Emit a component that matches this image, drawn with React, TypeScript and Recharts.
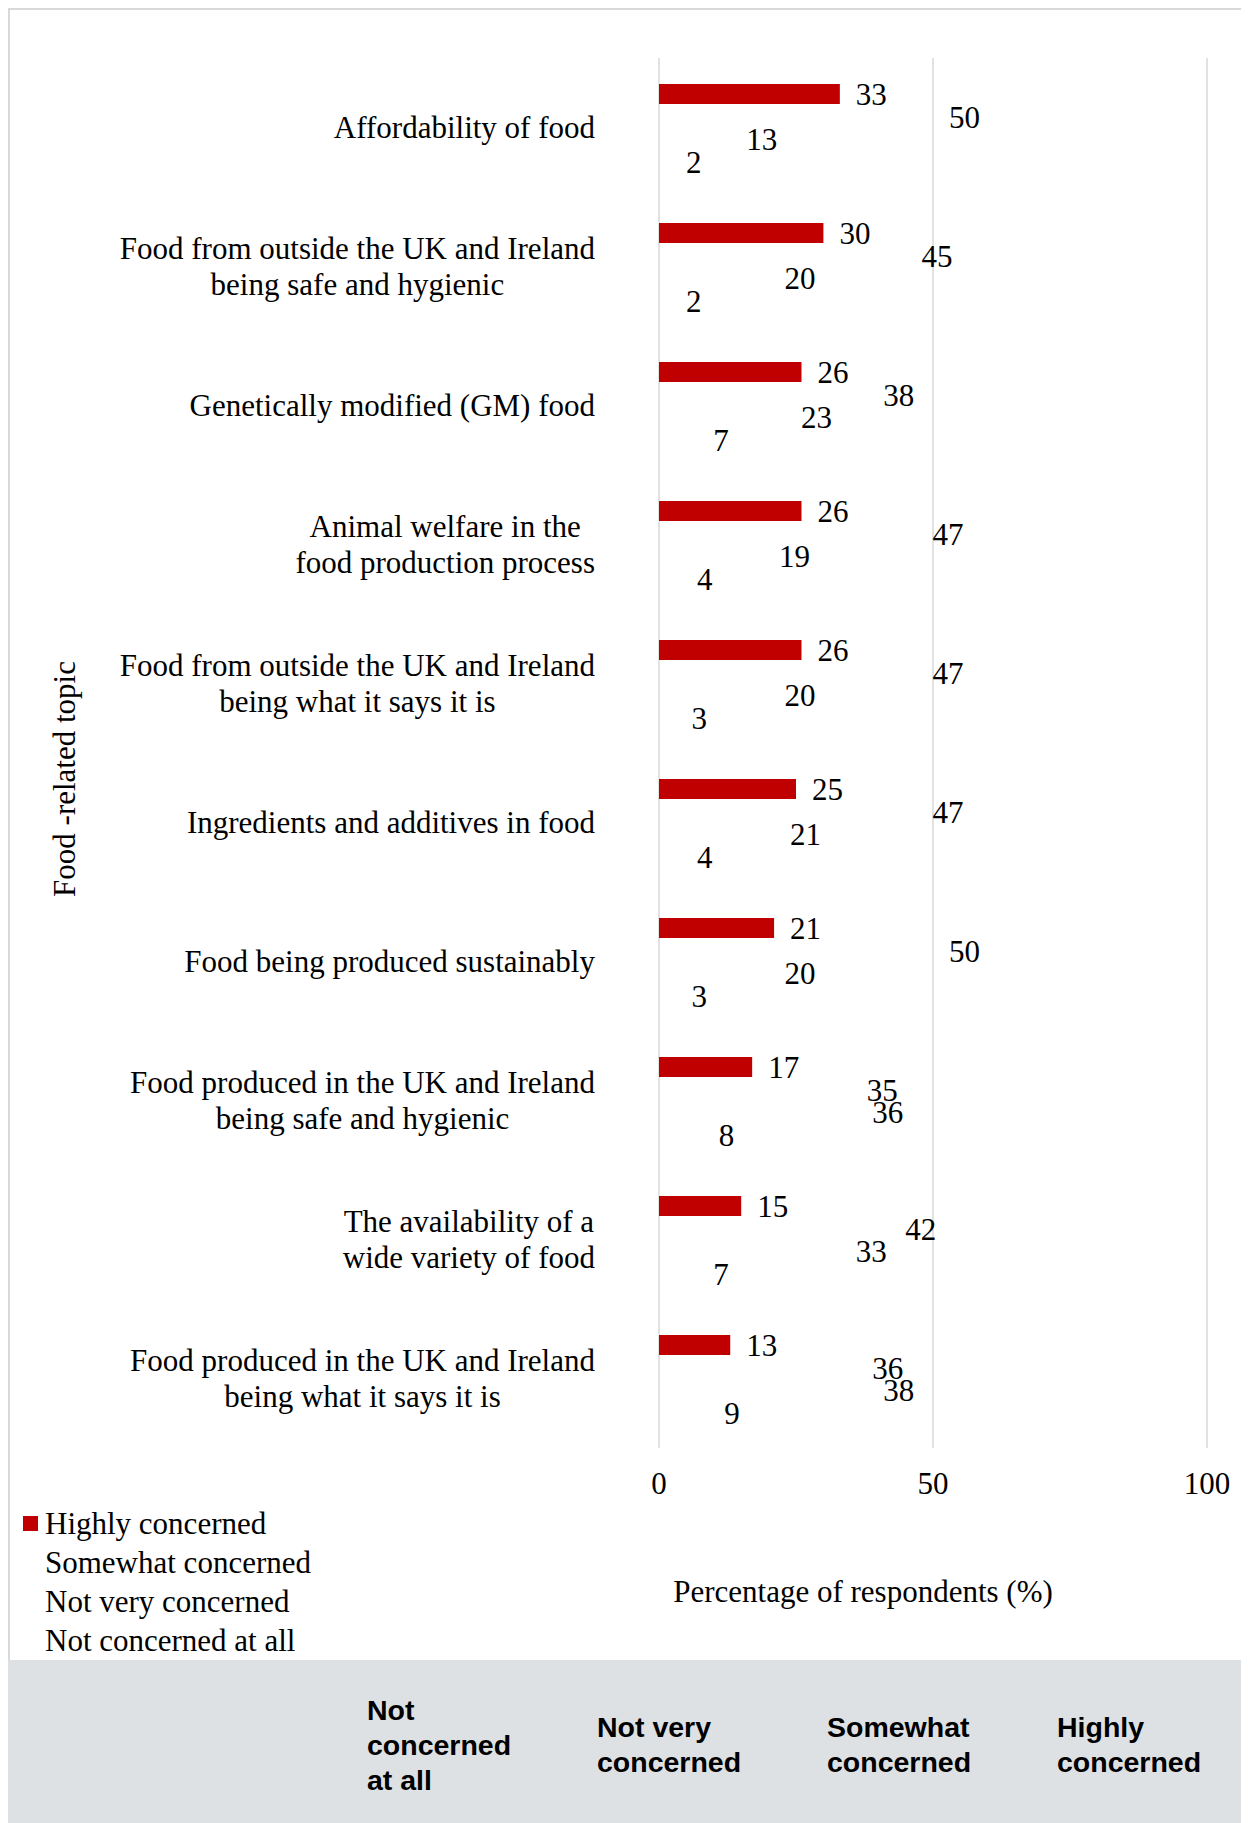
import React from 'react';
import { BarChart, Bar, XAxis, YAxis, CartesianGrid, LabelList, Legend, Label } from 'recharts';

if (typeof document !== 'undefined') {
  document.body.style.overflow = 'hidden';
}

const topics = [
  'Affordability of food',
  'Food from outside the UK and Ireland\nbeing safe and hygienic',
  'Genetically modified (GM) food',
  'Animal welfare in the\nfood production process',
  'Food from outside the UK and Ireland\nbeing what it says it is',
  'Ingredients and additives in food',
  'Food being produced sustainably',
  'Food produced in the UK and Ireland\nbeing safe and hygienic',
  'The availability of a\nwide variety of food',
  'Food produced in the UK and Ireland\nbeing what it says it is',
];

const highly = [33, 30, 26, 26, 26, 25, 21, 17, 15, 13];
const somewhat = [50, 45, 38, 47, 47, 47, 50, 35, 42, 36];
const notVery = [13, 20, 23, 19, 20, 21, 20, 36, 33, 38];
const notAtAll = [2, 2, 7, 4, 3, 4, 3, 8, 7, 9];

const xTicks = [0, 50, 100];

const footerLabels = [
  ['Not', 'concerned', 'at all'],
  ['Not very', 'concerned'],
  ['Somewhat', 'concerned'],
  ['Highly', 'concerned'],
];

const series = [
  { key: 'highly', name: 'Highly concerned', fill: '#C00000' },
  { key: 'somewhat', name: 'Somewhat concerned', fill: 'none' },
  { key: 'notVery', name: 'Not very concerned', fill: 'none' },
  { key: 'notAtAll', name: 'Not concerned at all', fill: 'none' },
];

const SERIF = '"Liberation Serif", "Times New Roman", serif';
const SANS = '"Liberation Sans", Arial, sans-serif';
const FS = 31;

const data = topics.map((name, i) => ({
  name,
  highly: highly[i],
  somewhat: somewhat[i],
  notVery: notVery[i],
  notAtAll: notAtAll[i],
}));

let ctx: CanvasRenderingContext2D | null = null;
function textWidth(s: string) {
  if (!ctx) ctx = document.createElement('canvas').getContext('2d');
  if (!ctx) return s.length * FS * 0.45;
  ctx.font = `${FS}px "Liberation Serif"`;
  return ctx.measureText(s).width;
}

function TopicTick(props: any) {
  const { x, y, payload } = props;
  const lines = String(payload.value).split('\n');
  const w = Math.max(...lines.map(textWidth));
  const cx = x - 64 - w / 2;
  return (
    <g>
      {lines.map((line, i) => (
        <text
          key={i}
          x={cx}
          y={y + (i - (lines.length - 1) / 2) * 36}
          textAnchor="middle"
          dominantBaseline="central"
          fontFamily={SERIF}
          fontSize={FS}
          fill="#000"
        >
          {line}
        </text>
      ))}
    </g>
  );
}

// legend keeps the series order (recharts sorts the payload by name)
function renderLegend() {
  return (
    <div style={{ fontFamily: SERIF, fontSize: FS, color: '#000' }}>
      {series.map((s) => (
        <div key={s.key} style={{ height: 39, display: 'flex', alignItems: 'center' }}>
          <span
            style={{
              display: 'inline-block',
              width: 15,
              height: 15,
              marginRight: 7,
              background: s.fill !== 'none' ? s.fill : 'transparent',
            }}
          />
          <span>{s.name}</span>
        </div>
      ))}
    </div>
  );
}

export default function App() {
  return (
    <div style={{ width: 1241 }}>
      <div
        style={{
          border: '2px solid #d9d9d9',
          borderBottom: 'none',
          background: '#fff',
          width: 1237,
          height: 1650,
        }}
      >
        <BarChart
          width={1237}
          height={1650}
          data={data}
          layout="vertical"
          margin={{ top: 48, right: 40, left: 49, bottom: 152 }}
          barSize={20}
          barGap={2.5}
        >
          <CartesianGrid horizontal={false} stroke="#d9d9d9" strokeWidth={1.5} />
          <XAxis
            type="number"
            domain={[0, 100]}
            ticks={xTicks}
            axisLine={false}
            tickLine={false}
            tickSize={0}
            tickMargin={24}
            height={60}
            tick={{ fontSize: FS, fontFamily: SERIF, fill: '#000' }}
          >
            <Label
              content={(p: any) => {
                const vb = p.viewBox || {};
                return (
                  <text
                    x={vb.x + vb.width / 2 - 70}
                    y={vb.y + 143}
                    textAnchor="middle"
                    dominantBaseline="central"
                    fontFamily={SERIF}
                    fontSize={FS}
                    fill="#000"
                  >
                    Percentage of respondents (%)
                  </text>
                );
              }}
            />
          </XAxis>
          <YAxis
            type="category"
            dataKey="name"
            width={600}
            interval={0}
            axisLine={false}
            tickLine={false}
            tickSize={0}
            tickMargin={0}
            tick={<TopicTick />}
          >
            <Label
              content={(p: any) => {
                const vb = p.viewBox || {};
                const lx = vb.x + 5;
                const ly = vb.y + vb.height / 2 + 26;
                return (
                  <text
                    x={lx}
                    y={ly}
                    transform={`rotate(-90 ${lx} ${ly})`}
                    textAnchor="middle"
                    dominantBaseline="central"
                    fontFamily={SERIF}
                    fontSize={FS}
                    fill="#000"
                  >
                    Food -related topic
                  </text>
                );
              }}
            />
          </YAxis>
          <Legend
            layout="horizontal"
            verticalAlign="middle"
            align="center"
            wrapperStyle={{ left: 13, top: 1494, width: 420, height: 160 }}
            content={renderLegend}
          />
          {series.map((s) => (
            <Bar key={s.key} dataKey={s.key} name={s.name} fill={s.fill} isAnimationActive={false}>
              <LabelList
                dataKey={s.key}
                position="right"
                offset={16}
                fill="#000"
                fontSize={FS}
                fontFamily={SERIF}
              />
            </Bar>
          ))}
        </BarChart>
      </div>
      <div
        style={{
          background: '#DEE1E4',
          height: 170,
          display: 'flex',
          alignItems: 'center',
          paddingLeft: 359,
          boxSizing: 'border-box',
          overflow: 'hidden',
          fontFamily: SANS,
          fontWeight: 'bold',
          fontSize: 28.5,
          lineHeight: '35px',
          color: '#000',
        }}
      >
        {footerLabels.map((lines, i) => (
          <div key={i} style={{ width: 230, flexShrink: 0 }}>
            {lines.map((l, j) => (
              <div key={j}>{l}</div>
            ))}
          </div>
        ))}
      </div>
    </div>
  );
}
